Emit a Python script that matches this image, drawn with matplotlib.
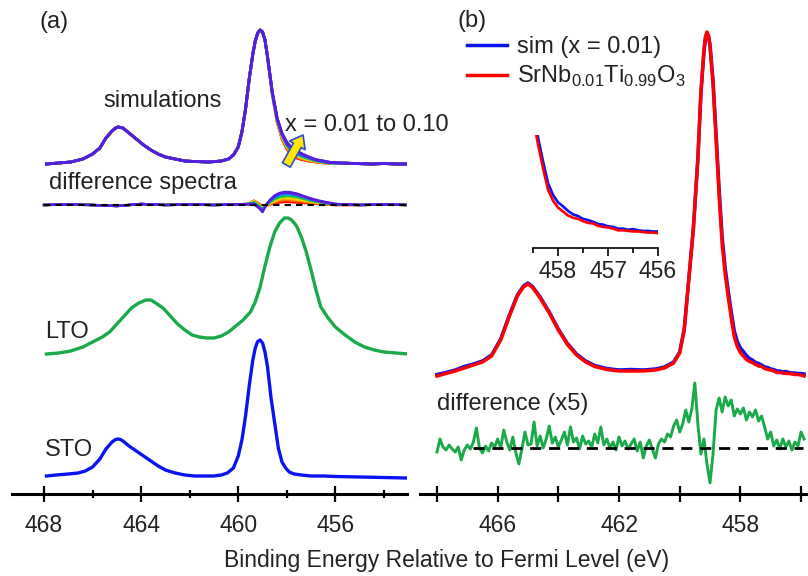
import numpy as np
import matplotlib
matplotlib.use('Agg')
import matplotlib.pyplot as plt

plt.rcParams['font.family'] = 'Liberation Sans'
plt.rcParams['mathtext.fontset'] = 'custom'
plt.rcParams['mathtext.rm'] = 'Liberation Sans'

# ---------------- panel (a) data (intensity in arbitrary units) ----------------
# STO reference spectrum
sto_E = [467.9, 467.5, 467.0, 466.6, 466.3, 466.0, 465.7, 465.45, 465.2, 465.05,
         464.95, 464.85, 464.75, 464.5, 464.2, 463.9, 463.6, 463.3, 463.0, 462.6,
         462.2, 461.8, 461.4, 461.0, 460.7, 460.45, 460.2, 460.0, 459.85, 459.7,
         459.55, 459.4, 459.3, 459.2, 459.1, 459.0, 458.9, 458.8, 458.65, 458.5,
         458.35, 458.2, 458.05, 457.9, 457.7, 457.4, 457.0, 456.5, 456.0, 455.0,
         454.0, 453.1]
sto_I = [2, 3, 4, 5, 7, 11, 19, 29, 36, 38.5,
         39, 38.5, 37, 32, 27, 22, 17, 12, 8, 5,
         3, 2, 2, 2, 3, 5, 10, 22, 38, 62,
         92, 118, 130, 136.5, 138, 135, 126, 112, 80, 55,
         30, 16, 10, 6, 4, 3, 2, 2, 1.5, 1,
         0.5, 0]

# LTO reference spectrum
lto_E = [467.9, 467.4, 466.9, 466.4, 466.0, 465.6, 465.3, 465.0, 464.7, 464.4,
         464.1, 463.8, 463.6, 463.4, 463.1, 462.8, 462.5, 462.2, 461.9, 461.6,
         461.3, 461.0, 460.7, 460.4, 460.1, 459.8, 459.5, 459.3, 459.1, 458.9,
         458.7, 458.5, 458.3, 458.1, 457.95, 457.8, 457.6, 457.4, 457.2, 457.0,
         456.8, 456.6, 456.3, 456.0, 455.6, 455.2, 454.8, 454.4, 454.0, 453.5, 453.0]
lto_I = [0, 1, 3, 7, 12, 17, 22, 30, 38, 46,
         51, 54, 54, 51, 46, 38, 30, 24, 19, 17,
         16, 16, 18, 22, 28, 34, 42, 52, 67, 88,
         107, 122, 131, 136, 136, 134, 128, 117, 102, 84,
         64, 47, 36, 27, 19, 12, 7, 4, 2, 1, 0]

# simulations, x = 0.01 ... 0.10 (shared part + Ti3+ tail region)
sim_x = [0.01, 0.02, 0.03, 0.04, 0.05, 0.06, 0.07, 0.08, 0.09, 0.10]
sim_head_E = [467.9, 467.4, 466.9, 466.4, 466.0, 465.7, 465.45, 465.2, 465.05, 464.95,
              464.85, 464.75, 464.5, 464.2, 463.9, 463.6, 463.3, 463.0, 462.6, 462.2,
              461.8, 461.2, 460.7, 460.4, 460.2, 460.0, 459.85, 459.7, 459.55, 459.4,
              459.3, 459.2, 459.1, 459.0, 458.9, 458.8]
sim_head_I = [0, 1, 2, 5, 10, 16, 26, 33, 36, 37,
              36.5, 36, 31, 25, 19, 14, 10, 7, 5, 3,
              2.5, 2, 3, 5, 9, 17, 32, 55, 85, 110,
              123, 131, 134, 132, 124, 108]
sim_tail_E = [458.6, 458.4, 458.2, 458.0, 457.8, 457.6, 457.4, 457.1, 456.8, 456.5, 456.2]
sim_tail_I = [
    [70, 42, 25, 15, 9, 6, 4.5, 3, 2, 1, 0.5],
    [70, 43, 26, 16, 10, 7, 5, 3.5, 2, 1.5, 0.5],
    [70, 43, 27, 17, 11, 8, 6, 4, 2.5, 1.5, 0.5],
    [71, 44, 27, 18, 12, 9, 7, 4.5, 3, 2, 1],
    [71, 44, 28, 18, 13, 10, 7.5, 5, 3, 2, 1],
    [71, 45, 29, 19, 13, 10.5, 8, 5.5, 3.5, 2, 1],
    [71, 45, 29, 20, 14, 11, 8.5, 6, 3.5, 2.5, 1],
    [72, 45, 30, 20, 15, 12, 9, 6.5, 4, 2.5, 1.5],
    [72, 46, 30, 21, 15.5, 12.5, 10, 7, 4, 3, 1.5],
    [72, 46, 31, 22, 16, 13, 10.5, 7, 4.5, 3, 1.5],
]
sim_end_E = [455.8, 455.2, 454.5, 454.0, 453.5, 453.0]
sim_end_I = [1, 0.5, 0, 0.5, 0, 0]

# difference spectra (simulation - measurement)
dif_E = [468.0, 467.0, 466.0, 465.0, 464.0, 463.0, 462.0, 461.0, 460.2, 459.6,
         459.35, 459.15, 459.0, 458.85, 458.7, 458.5, 458.3, 458.1, 457.9, 457.6,
         457.3, 457.0, 456.7, 456.4, 456.0, 455.0, 454.0, 453.0]
dif_I = [
    [0, 0.5, 0, -1, 1, 0, 0.5, 0, 0.5, 1, 4, 1.5, -2, -1, 0.5, 1.5, 2.5, 3, 3, 2.5, 2, 1.5, 1, 0.5, 0, 0, 0.5, 0],
    [0, 0.5, 0, -1, 1, 0, 0.5, 0, 0.5, 1, 4.5, 1, -2.5, -1, 1, 2.5, 4, 4.5, 4.5, 4, 3, 2, 1.5, 1, 0, 0, 0.5, 0],
    [0, 0.5, 0, -1, 1, 0, 0.5, 0, 0.5, 1, 4, 0.5, -3, -1, 1.5, 3.5, 5.5, 6, 6, 5, 4, 3, 2, 1, 0.5, 0, 0.5, 0],
    [0, 0.5, 0, -1, 1, 0, 0.5, 0, 0.5, 1, 3.5, 0, -3.5, -1, 2, 4.5, 6.5, 7.5, 7.5, 6.5, 5, 3.5, 2.5, 1.5, 0.5, 0, 0.5, 0],
    [0, 0.5, 0, -1, 1, 0, 0.5, 0, 0.5, 1, 3, -0.5, -4, -0.5, 2.5, 5.5, 7.5, 8.5, 8.5, 7.5, 6, 4, 3, 1.5, 0.5, 0, 0.5, 0],
    [0, 0.5, 0, -1, 1, 0, 0.5, 0, 0.5, 1, 2.5, -1, -4.5, -0.5, 3, 6.5, 8.5, 9.5, 9.5, 8.5, 6.5, 4.5, 3, 2, 0.5, 0, 0.5, 0],
    [0, 0.5, 0, -1, 1, 0, 0.5, 0, 0.5, 1, 2, -1.5, -5, 0, 3.5, 7.5, 9.5, 10.5, 10.5, 9.5, 7.5, 5, 3.5, 2, 1, 0, 0.5, 0],
    [0, 0.5, 0, -1, 1, 0, 0.5, 0, 0.5, 1, 1.5, -2, -6, 0, 4, 8, 10.5, 11.5, 11.5, 10, 8, 5.5, 4, 2.5, 1, 0, 0.5, 0],
    [0, 0.5, 0, -1, 1, 0, 0.5, 0, 0.5, 1, 1, -2.5, -6.5, 0.5, 4.5, 9, 11.5, 12.5, 12.5, 11, 8.5, 6, 4, 2.5, 1, 0, 0.5, 0],
    [0, 0.5, 0, -1, 1, 0, 0.5, 0, 0.5, 0.5, 0.5, -3, -7, 0.5, 5, 9.5, 12, 13, 13, 11.5, 9, 6.5, 4.5, 3, 1, 0, 0.5, 0],
]
sim_colors = ['#ff0000', '#ff6000', '#ffb000', '#f0e000', '#80d000',
              '#00b050', '#00c0e0', '#0060ff', '#c000c0', '#5020e0']

# vertical stacking of the traces in panel (a)
OFF_STO, OFF_LTO, OFF_DIF, OFF_SIM = 16, 140, 289, 330

# ---------------- panel (b) data ----------------
b_E = [468.0, 467.7, 467.4, 467.1, 466.8, 466.5, 466.2, 465.9, 465.6, 465.35,
       465.15, 465.0, 464.85, 464.6, 464.3, 464.0, 463.7, 463.4, 463.1, 462.8,
       462.4, 462.0, 461.6, 461.2, 460.8, 460.5, 460.2, 460.0, 459.85, 459.7,
       459.55, 459.4, 459.3, 459.2, 459.15, 459.1, 459.05, 459.0, 458.9, 458.8,
       458.7, 458.6, 458.5, 458.4, 458.3, 458.2, 458.1, 458.0, 457.9, 457.8,
       457.7, 457.6, 457.5, 457.4, 457.3, 457.2, 457.1, 457.0, 456.9, 456.8,
       456.7, 456.6, 456.5, 456.4, 456.3, 456.2, 456.1, 456.0, 455.9]
b_sim = [119.5, 121.5, 124, 127.5, 130, 133, 139, 155, 180, 199,
         208, 211, 207.5, 197, 182, 165, 150.5, 140, 133, 128.5,
         125.5, 124, 124.5, 124, 125, 127, 132, 142, 165, 215,
         265, 335, 400, 442, 456, 461, 458, 449, 413, 360,
         305, 257, 226, 203, 182, 163, 152.5, 146, 142.5, 138.5,
         135.5, 134, 131.5, 130.5, 129, 127, 126.5, 125, 124.5, 123,
         123, 122, 122.5, 121.5, 121, 121, 120.5, 120.5, 120]
b_exp = [118, 120.5, 123, 126, 129, 132, 138, 154, 179, 198,
         207, 210, 206.5, 196, 181, 164, 149.5, 139, 132, 127.5,
         124.5, 123, 123, 123, 124, 126, 131, 141, 164, 214,
         265, 336, 402, 444, 457, 462, 458, 448, 410, 355,
         298, 250, 220, 197, 176, 157, 147.5, 141.5, 138, 134.5,
         132.5, 131.5, 129.5, 128, 127.5, 125.5, 124.5, 124, 123, 121.5,
         121.5, 121, 120.5, 120.5, 120, 119.5, 119.5, 119, 118]

# difference (x5), sampled every 0.1 eV from 468.0 eV
b_dif = [42, 55, 47, 44, 49, 45, 42, 47, 34, 44, 49, 45, 52, 66, 46, 41, 48, 43, 51, 47,
         55, 46, 64, 52, 44, 57, 41, 30, 45, 62, 49, 50, 72, 48, 58, 46, 55, 68, 51, 57,
         47, 54, 62, 49, 67, 52, 56, 45, 58, 50, 53, 47, 60, 51, 67, 49, 55, 46, 52, 44,
         57, 48, 53, 45, 50, 55, 43, 52, 36, 48, 54, 45, 36, 50, 55, 52, 60, 57, 68, 74,
         62, 70, 84, 72, 85, 111, 70, 40, 55, 30, 11, 40, 84, 96, 82, 97, 88, 94, 78, 85,
         80, 86, 74, 82, 77, 84, 73, 78, 67, 55, 62, 48, 54, 45, 55, 47, 53, 44, 52, 48,
         62, 55]
b_dif_E = np.round(468.0 - 0.1 * np.arange(len(b_dif)), 1)
B_DIF_ZERO = 46
B_DIF_LINE = [466.8, 455.95]

TXT = '#222222'
BLUE = '#0a14f0'
GREEN = '#1aaa4a'

fig = plt.figure(figsize=(8.08, 5.76), dpi=100)
W, H = 808.0, 576.0


def style_axis(ax):
    for s in ['left', 'right', 'top']:
        ax.spines[s].set_visible(False)
    ax.spines['bottom'].set_linewidth(2.2)
    ax.set_yticks([])
    ax.set_ylim(0, 494)
    ax.patch.set_alpha(0)


# ---------------- panel (a) ----------------
ax_a = fig.add_axes([12 / W, 82 / H, 395 / W, 494 / H])
style_axis(ax_a)
ax_a.set_xlim(469.32, 453.05)
ax_a.set_xticks([468, 464, 460, 456])
ax_a.set_xticks([466, 462, 458, 454], minor=True)
ax_a.tick_params(which='major', direction='inout', length=11.5, width=1.6,
                 labelsize=16.5, pad=9, labelcolor=TXT)
ax_a.tick_params(which='minor', direction='inout', length=6, width=1.6)

ax_a.plot(sto_E, np.array(sto_I) + OFF_STO, color=BLUE, lw=2.4)
ax_a.plot(lto_E, np.array(lto_I) + OFF_LTO, color=GREEN, lw=2.4)

for i, c in enumerate(sim_colors):
    E = sim_head_E + sim_tail_E + sim_end_E
    I = np.array(sim_head_I + sim_tail_I[i] + sim_end_I) + OFF_SIM
    ax_a.plot(E, I, color=c, lw=2.0)
for i, c in enumerate(sim_colors):
    ax_a.plot(dif_E, np.array(dif_I[i]) + OFF_DIF, color=c, lw=1.7)
ax_a.plot([dif_E[0], dif_E[-1]], [OFF_DIF, OFF_DIF], color='black', lw=1.5,
          dashes=(3, 2.5), zorder=5)

ax_a.annotate('', xy=(457.33, 359), xytext=(458.02, 329),
              arrowprops=dict(arrowstyle='simple,head_length=0.5,head_width=0.75,tail_width=0.38',
                              fc='#ffe600', ec='#2a4bd7', lw=1.2, mutation_scale=17,
                              shrinkA=0, shrinkB=0), zorder=6)

# ---------------- panel (b) ----------------
ax_b = fig.add_axes([420 / W, 82 / H, 388 / W, 494 / H])
style_axis(ax_b)
ax_b.set_xlim(468.56, 455.77)
ax_b.set_xticks([468, 466, 464, 462, 460, 458, 456])
ax_b.set_xticklabels(['', '466', '', '462', '', '458', ''])
ax_b.tick_params(which='major', direction='inout', length=11.5, width=1.6,
                 labelsize=16.5, pad=9, labelcolor=TXT)

l_sim, = ax_b.plot(b_E, b_sim, color=BLUE, lw=2.5)
l_exp, = ax_b.plot(b_E, b_exp, color='#ff0000', lw=2.5)
ax_b.plot(b_dif_E, b_dif, color=GREEN, lw=2.1)
ax_b.plot(B_DIF_LINE, [B_DIF_ZERO, B_DIF_ZERO], color='black', lw=2.0,
          dashes=(4, 2.8), zorder=5)

ax_b.legend([l_sim, l_exp], ['sim (x = 0.01)',
            r'SrNb$_\mathregular{0.01}$Ti$_\mathregular{0.99}$O$_\mathregular{3}$'],
            loc='upper left', bbox_to_anchor=(467 / W, 1 - 36 / H),
            bbox_transform=fig.transFigure, frameon=False, fontsize=17,
            handlelength=1.7, handletextpad=0.4, borderpad=0, borderaxespad=0,
            labelspacing=0.25, labelcolor=TXT)

# inset: magnified Ti3+ tail
ax_in = fig.add_axes([533 / W, 1 - 248 / H, 125 / W, 113 / H])
for s in ['left', 'right', 'top']:
    ax_in.spines[s].set_visible(False)
ax_in.spines['bottom'].set_linewidth(1.2)
ax_in.patch.set_alpha(0)
ax_in.set_yticks([])
ax_in.set_xlim(458.5, 456.0)
ax_in.set_ylim(106, 205)
ax_in.set_xticks([458, 457, 456])
ax_in.set_xticks([458.5, 457.5, 456.5], minor=True)
ax_in.tick_params(which='major', direction='out', length=5.5, width=1.2,
                  labelsize=16.5, pad=3, labelcolor=TXT)
ax_in.tick_params(which='minor', direction='out', length=3.5, width=1.2)
ax_in.plot(b_E, b_sim, color=BLUE, lw=1.9)
ax_in.plot(b_E, b_exp, color='#ff0000', lw=1.9)

# ---------------- labels ----------------
fs = 17
fig.text(54 / W, 1 - 22 / H, '(a)', fontsize=fs, color=TXT, ha='center', va='center')
fig.text(472 / W, 1 - 21 / H, '(b)', fontsize=fs, color=TXT, ha='center', va='center')
fig.text(163 / W, 1 - 101 / H, 'simulations', fontsize=fs, color=TXT, ha='center', va='center')
fig.text(285 / W, 1 - 125 / H, 'x = 0.01 to 0.10', fontsize=fs, color=TXT, ha='left', va='center')
fig.text(49 / W, 1 - 183 / H, 'difference spectra', fontsize=fs, color=TXT, ha='left', va='center')
fig.text(45 / W, 1 - 332 / H, 'LTO', fontsize=fs, color=TXT, ha='left', va='center')
fig.text(45 / W, 1 - 450 / H, 'STO', fontsize=fs, color=TXT, ha='left', va='center')
fig.text(437 / W, 1 - 404 / H, 'difference (x5)', fontsize=fs, color=TXT, ha='left', va='center')
fig.text(447 / W, 1 - 560 / H, 'Binding Energy Relative to Fermi Level (eV)',
         fontsize=16.5, color=TXT, ha='center', va='center')

fig.savefig('out.png', dpi=100)
